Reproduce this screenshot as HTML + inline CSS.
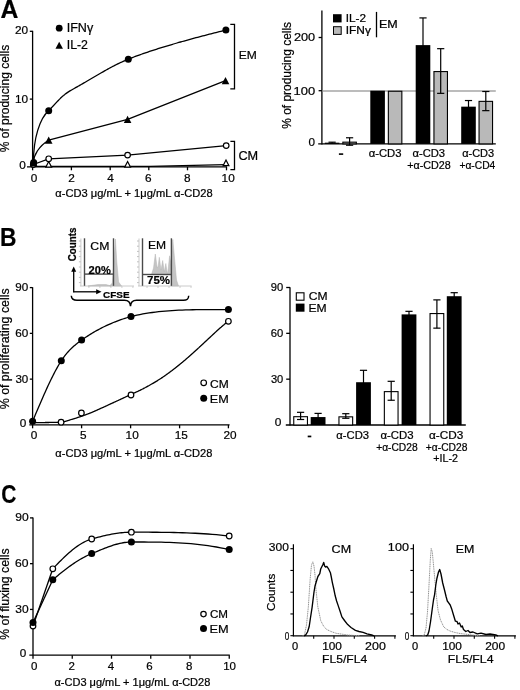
<!DOCTYPE html>
<html><head><meta charset="utf-8"><style>
html,body{margin:0;padding:0;background:#fff;width:520px;height:690px;overflow:hidden;}
svg{display:block;will-change:transform;}
text{font-family:"Liberation Sans",sans-serif;fill:#000;stroke:#000;stroke-width:0.22px;}
</style></head><body>
<svg width="520" height="690" viewBox="0 0 520 690">
<text x="0.48" y="17.60" font-size="25" textLength="17.87" lengthAdjust="spacingAndGlyphs" font-weight="bold" >A</text>
<line x1="32.60" y1="30.80" x2="32.60" y2="170.30" stroke="#000" stroke-width="1.3" />
<line x1="27.00" y1="166.90" x2="227.00" y2="166.90" stroke="#000" stroke-width="1.3" />
<line x1="29.80" y1="31.30" x2="32.60" y2="31.30" stroke="#000" stroke-width="1.3" />
<line x1="29.80" y1="99.10" x2="32.60" y2="99.10" stroke="#000" stroke-width="1.3" />
<text x="14.89" y="34.30" font-size="11.8" >20</text>
<text x="14.99" y="103.20" font-size="11.8" >10</text>
<text x="19.35" y="169.30" font-size="11.8" >0</text>
<line x1="71.40" y1="166.90" x2="71.40" y2="170.30" stroke="#000" stroke-width="1.3" />
<line x1="110.20" y1="166.90" x2="110.20" y2="170.30" stroke="#000" stroke-width="1.3" />
<line x1="148.80" y1="166.90" x2="148.80" y2="170.30" stroke="#000" stroke-width="1.3" />
<line x1="187.50" y1="166.90" x2="187.50" y2="170.30" stroke="#000" stroke-width="1.3" />
<line x1="226.50" y1="166.90" x2="226.50" y2="170.30" stroke="#000" stroke-width="1.3" />
<text x="30.72" y="181.80" font-size="11.8">0</text>
<text x="68.22" y="181.80" font-size="11.8">2</text>
<text x="107.26" y="181.80" font-size="11.8">4</text>
<text x="144.98" y="181.80" font-size="11.8">6</text>
<text x="183.92" y="181.80" font-size="11.8">8</text>
<text x="221.62" y="181.80" font-size="11.8">10</text>
<text x="55.29" y="197.20" font-size="10.2" textLength="157.34" lengthAdjust="spacingAndGlyphs" >α-CD3 μg/mL + 1μg/mL α-CD28</text>
<text transform="translate(9.00,151.85) rotate(-90)" x="-0.43" y="0" font-size="12.0" textLength="107.46" lengthAdjust="spacingAndGlyphs">% of producing cells</text>
<path d="M33.4,162.6 C33.4,138 40,118 48.7,110.8" fill="none" stroke="#000" stroke-width="1.3"/>
<path d="M48.70,110.80 L49.01,110.46 L49.32,110.12 L49.63,109.79 L49.94,109.45 L50.25,109.11 L50.55,108.77 L50.86,108.44 L51.17,108.10 L51.48,107.77 L51.79,107.43 L52.09,107.10 L52.40,106.76 L52.71,106.43 L53.01,106.10 L53.32,105.77 L53.62,105.44 L53.92,105.11 L54.23,104.79 L54.53,104.46 L54.83,104.14 L55.13,103.82 L55.43,103.50 L55.73,103.18 L56.03,102.86 L56.33,102.55 L56.62,102.23 L56.92,101.92 L57.21,101.61 L57.51,101.30 L57.80,101.00 L58.06,100.73 L58.33,100.45 L58.59,100.18 L58.85,99.91 L59.11,99.65 L59.37,99.38 L59.63,99.12 L59.89,98.86 L60.15,98.60 L60.41,98.34 L60.68,98.09 L60.94,97.83 L61.20,97.58 L61.46,97.33 L61.73,97.09 L61.99,96.84 L62.26,96.60 L62.53,96.35 L62.80,96.11 L63.07,95.88 L63.34,95.64 L63.62,95.41 L63.89,95.17 L64.17,94.94 L64.45,94.71 L64.74,94.49 L65.02,94.26 L65.31,94.04 L65.61,93.82 L65.90,93.60 L66.25,93.35 L66.60,93.10 L66.95,92.85 L67.31,92.61 L67.68,92.36 L68.05,92.12 L68.42,91.88 L68.80,91.64 L69.18,91.40 L69.57,91.16 L69.97,90.92 L70.37,90.68 L70.77,90.43 L71.18,90.19 L71.60,89.95 L72.02,89.71 L72.45,89.46 L72.88,89.21 L73.32,88.96 L73.77,88.71 L74.22,88.46 L74.68,88.20 L75.15,87.94 L75.62,87.67 L76.10,87.40 L76.59,87.13 L77.08,86.86 L77.58,86.58 L78.09,86.29 L78.60,86.00 L79.33,85.59 L80.07,85.16 L80.82,84.73 L81.59,84.29 L82.37,83.84 L83.16,83.39 L83.96,82.93 L84.76,82.46 L85.58,81.98 L86.40,81.50 L87.24,81.02 L88.07,80.53 L88.92,80.03 L89.76,79.54 L90.62,79.04 L91.47,78.54 L92.33,78.03 L93.19,77.53 L94.05,77.03 L94.91,76.52 L95.77,76.02 L96.63,75.51 L97.49,75.01 L98.35,74.52 L99.20,74.02 L100.05,73.53 L100.90,73.04 L101.74,72.55 L102.57,72.07 L103.40,71.60 L104.21,71.14 L105.01,70.68 L105.80,70.23 L106.60,69.79 L107.38,69.35 L108.17,68.91 L108.95,68.48 L109.73,68.05 L110.51,67.63 L111.29,67.21 L112.07,66.79 L112.86,66.38 L113.65,65.97 L114.44,65.56 L115.23,65.16 L116.03,64.75 L116.84,64.35 L117.66,63.95 L118.48,63.55 L119.31,63.16 L120.15,62.76 L121.00,62.37 L121.87,61.97 L122.74,61.58 L123.63,61.18 L124.53,60.79 L125.45,60.39 L126.38,60.00 L127.33,59.60 L128.30,59.20 L129.64,58.66 L131.02,58.11 L132.42,57.56 L133.86,57.01 L135.32,56.46 L136.81,55.91 L138.32,55.35 L139.86,54.80 L141.42,54.25 L143.00,53.69 L144.61,53.14 L146.23,52.58 L147.86,52.03 L149.52,51.47 L151.18,50.92 L152.87,50.37 L154.56,49.82 L156.26,49.28 L157.97,48.74 L159.69,48.19 L161.42,47.66 L163.15,47.12 L164.88,46.59 L166.62,46.06 L168.35,45.54 L170.09,45.02 L171.82,44.51 L173.55,44.00 L175.28,43.50 L177.00,43.00 L178.76,42.49 L180.51,42.00 L182.25,41.50 L183.99,41.01 L185.72,40.53 L187.44,40.05 L189.16,39.58 L190.87,39.11 L192.58,38.65 L194.28,38.19 L195.97,37.74 L197.66,37.29 L199.35,36.84 L201.03,36.39 L202.70,35.95 L204.38,35.52 L206.05,35.08 L207.71,34.65 L209.37,34.22 L211.04,33.79 L212.69,33.36 L214.35,32.94 L216.00,32.52 L217.65,32.10 L219.31,31.68 L220.95,31.26 L222.60,30.84 L224.25,30.42 L225.90,30.00" fill="none" stroke="#000" stroke-width="1.3" stroke-linejoin="round"/>
<path d="M33.4,162.8 C33.6,155 39,146 48.7,140.2 L127.6,119.3 L225.5,80.6" fill="none" stroke="#000" stroke-width="1.3" stroke-linejoin="round"/>
<path d="M33.30,164.50 L48.70,158.80 L127.60,155.10 L226.20,145.60" fill="none" stroke="#000" stroke-width="1.3" stroke-linejoin="round" />
<path d="M33.30,166.40 L48.70,166.40 L127.60,166.40 L150.00,166.40 L226.00,164.60" fill="none" stroke="#000" stroke-width="1.1" stroke-linejoin="round" />
<polygon points="45.80,167.21 51.60,167.21 48.70,161.55" fill="#fff" stroke="#000" stroke-width="1.2" stroke-linejoin="miter"/>
<polygon points="124.70,167.21 130.50,167.21 127.60,161.55" fill="#fff" stroke="#000" stroke-width="1.2" stroke-linejoin="miter"/>
<polygon points="223.10,165.71 228.90,165.71 226.00,160.05" fill="#fff" stroke="#000" stroke-width="1.2" stroke-linejoin="miter"/>
<circle cx="33.3" cy="164.5" r="2.80" fill="#fff" stroke="#000" stroke-width="1.2"/>
<circle cx="48.7" cy="158.8" r="2.80" fill="#fff" stroke="#000" stroke-width="1.2"/>
<circle cx="127.6" cy="155.1" r="2.80" fill="#fff" stroke="#000" stroke-width="1.2"/>
<circle cx="226.2" cy="145.6" r="2.80" fill="#fff" stroke="#000" stroke-width="1.2"/>
<polygon points="29.90,166.41 37.50,166.41 33.70,159.19" fill="#000"/>
<polygon points="44.90,143.81 52.50,143.81 48.70,136.59" fill="#000"/>
<polygon points="123.80,122.91 131.40,122.91 127.60,115.69" fill="#000"/>
<polygon points="221.70,84.21 229.30,84.21 225.50,76.99" fill="#000"/>
<circle cx="33.7" cy="162.6" r="3.5" fill="#000"/>
<circle cx="48.7" cy="110.8" r="3.5" fill="#000"/>
<circle cx="128.3" cy="59.2" r="3.5" fill="#000"/>
<circle cx="225.9" cy="30.0" r="3.5" fill="#000"/>
<circle cx="59.2" cy="28.2" r="3.4" fill="#000"/>
<text x="66.69" y="32.30" font-size="12" textLength="26.50" lengthAdjust="spacingAndGlyphs" >IFNγ</text>
<polygon points="55.45,48.86 62.95,48.86 59.20,41.74" fill="#000"/>
<text x="66.71" y="48.60" font-size="12" textLength="21.26" lengthAdjust="spacingAndGlyphs" >IL-2</text>
<path d="M230.3,24.4 H234.5 V88.9 H230.3" fill="none" stroke="#000" stroke-width="1.3"/>
<text x="238.76" y="59.40" font-size="11.8" textLength="18.08" lengthAdjust="spacingAndGlyphs" >EM</text>
<path d="M230.4,141.3 H234.5 V169.6 H230.4" fill="none" stroke="#000" stroke-width="1.3"/>
<text x="238.46" y="160.00" font-size="12.2" textLength="19.74" lengthAdjust="spacingAndGlyphs" >CM</text>
<line x1="321.90" y1="10.40" x2="321.90" y2="144.50" stroke="#000" stroke-width="1.3" />
<line x1="318.20" y1="143.90" x2="495.80" y2="143.90" stroke="#000" stroke-width="1.3" />
<line x1="318.60" y1="90.70" x2="321.90" y2="90.70" stroke="#000" stroke-width="1.3" />
<line x1="318.60" y1="37.50" x2="321.90" y2="37.50" stroke="#000" stroke-width="1.3" />
<line x1="322.60" y1="91.00" x2="495.80" y2="91.00" stroke="#a6a6a6" stroke-width="1.7" />
<text x="293.91" y="41.20" font-size="11.8" textLength="21.24" lengthAdjust="spacingAndGlyphs" >200</text>
<text x="293.56" y="94.90" font-size="11.8" textLength="21.59" lengthAdjust="spacingAndGlyphs" >100</text>
<text x="308.59" y="146.10" font-size="11.8" textLength="6.52" lengthAdjust="spacingAndGlyphs" >0</text>
<text transform="translate(290.60,128.35) rotate(-90)" x="-0.43" y="0" font-size="12.0" textLength="106.86" lengthAdjust="spacingAndGlyphs">% of producing cells</text>
<rect x="324.80" y="142.68" width="14.60" height="1.22" fill="#000"/>
<line x1="332.10" y1="142.20" x2="332.10" y2="143.68" stroke="#000" stroke-width="1.2" />
<line x1="328.50" y1="142.20" x2="335.70" y2="142.20" stroke="#000" stroke-width="1.2" />
<rect x="342.85" y="142.16" width="13.50" height="1.74" fill="#b9b9b9" stroke="#000" stroke-width="1.1"/>
<line x1="349.60" y1="137.78" x2="349.60" y2="145.23" stroke="#000" stroke-width="1.2" />
<line x1="346.00" y1="137.78" x2="353.20" y2="137.78" stroke="#000" stroke-width="1.2" />
<line x1="346.00" y1="145.23" x2="353.20" y2="145.23" stroke="#000" stroke-width="1.2" />
<rect x="370.30" y="90.70" width="14.60" height="53.20" fill="#000"/>
<rect x="388.35" y="91.25" width="13.50" height="52.65" fill="#b9b9b9" stroke="#000" stroke-width="1.1"/>
<rect x="415.70" y="45.11" width="14.60" height="98.79" fill="#000"/>
<line x1="423.00" y1="17.92" x2="423.00" y2="46.11" stroke="#000" stroke-width="1.2" />
<line x1="419.40" y1="17.92" x2="426.60" y2="17.92" stroke="#000" stroke-width="1.2" />
<rect x="433.95" y="71.57" width="13.50" height="72.33" fill="#b9b9b9" stroke="#000" stroke-width="1.1"/>
<line x1="440.70" y1="48.67" x2="440.70" y2="93.36" stroke="#000" stroke-width="1.2" />
<line x1="437.10" y1="48.67" x2="444.30" y2="48.67" stroke="#000" stroke-width="1.2" />
<line x1="437.10" y1="93.36" x2="444.30" y2="93.36" stroke="#000" stroke-width="1.2" />
<rect x="461.20" y="106.66" width="14.60" height="37.24" fill="#000"/>
<line x1="468.50" y1="100.54" x2="468.50" y2="107.66" stroke="#000" stroke-width="1.2" />
<line x1="464.90" y1="100.54" x2="472.10" y2="100.54" stroke="#000" stroke-width="1.2" />
<rect x="479.05" y="101.36" width="13.50" height="42.54" fill="#b9b9b9" stroke="#000" stroke-width="1.1"/>
<line x1="485.80" y1="91.50" x2="485.80" y2="110.65" stroke="#000" stroke-width="1.2" />
<line x1="482.20" y1="91.50" x2="489.40" y2="91.50" stroke="#000" stroke-width="1.2" />
<line x1="482.20" y1="110.65" x2="489.40" y2="110.65" stroke="#000" stroke-width="1.2" />
<rect x="338.9" y="153.3" width="4.3" height="1.6" fill="#000"/>
<text x="368.68" y="156.80" font-size="10.0" textLength="32.77" lengthAdjust="spacingAndGlyphs" >α-CD3</text>
<text x="412.48" y="156.80" font-size="10.0" textLength="32.56" lengthAdjust="spacingAndGlyphs" >α-CD3</text>
<text x="407.23" y="169.40" font-size="10.0" textLength="43.49" lengthAdjust="spacingAndGlyphs" >+α-CD28</text>
<text x="462.19" y="156.80" font-size="10.0" textLength="31.94" lengthAdjust="spacingAndGlyphs" >α-CD3</text>
<text x="459.45" y="169.40" font-size="10.0" textLength="35.90" lengthAdjust="spacingAndGlyphs" >+α-CD4</text>
<rect x="333" y="14.2" width="8.6" height="8.2" fill="#000"/>
<rect x="333.5" y="26.7" width="7.7" height="7.7" fill="#b9b9b9" stroke="#000" stroke-width="1"/>
<text x="345.76" y="22.00" font-size="10.2" textLength="20.28" lengthAdjust="spacingAndGlyphs" >IL-2</text>
<text x="345.75" y="33.70" font-size="10.2" textLength="25.14" lengthAdjust="spacingAndGlyphs" >IFNγ</text>
<line x1="376.50" y1="11.90" x2="376.50" y2="37.30" stroke="#000" stroke-width="1.3" />
<text x="378.92" y="28.20" font-size="10.2" textLength="18.75" lengthAdjust="spacingAndGlyphs" >EM</text>
<text x="-0.02" y="245.50" font-size="25" textLength="16.46" lengthAdjust="spacingAndGlyphs" font-weight="bold" >B</text>
<line x1="32.60" y1="287.20" x2="32.60" y2="428.30" stroke="#000" stroke-width="1.3" />
<line x1="29.30" y1="424.90" x2="229.60" y2="424.90" stroke="#000" stroke-width="1.3" />
<line x1="29.80" y1="379.13" x2="32.60" y2="379.13" stroke="#000" stroke-width="1.3" />
<line x1="29.80" y1="333.37" x2="32.60" y2="333.37" stroke="#000" stroke-width="1.3" />
<line x1="29.80" y1="287.60" x2="32.60" y2="287.60" stroke="#000" stroke-width="1.3" />
<text x="15.30" y="290.80" font-size="11.8" textLength="13.00" lengthAdjust="spacingAndGlyphs" >90</text>
<text x="15.25" y="336.60" font-size="11.8" textLength="13.05" lengthAdjust="spacingAndGlyphs" >60</text>
<text x="15.41" y="382.50" font-size="11.8" textLength="12.89" lengthAdjust="spacingAndGlyphs" >30</text>
<text x="19.65" y="426.50" font-size="11.8" >0</text>
<line x1="81.60" y1="424.90" x2="81.60" y2="428.30" stroke="#000" stroke-width="1.3" />
<line x1="130.60" y1="424.90" x2="130.60" y2="428.30" stroke="#000" stroke-width="1.3" />
<line x1="179.60" y1="424.90" x2="179.60" y2="428.30" stroke="#000" stroke-width="1.3" />
<line x1="228.40" y1="424.90" x2="228.40" y2="428.30" stroke="#000" stroke-width="1.3" />
<text x="30.72" y="439.10" font-size="11.8">0</text>
<text x="80.03" y="439.10" font-size="11.8">5</text>
<text x="125.62" y="439.10" font-size="11.8">10</text>
<text x="174.74" y="439.10" font-size="11.8">15</text>
<text x="223.57" y="439.10" font-size="11.8">20</text>
<text x="55.29" y="457.30" font-size="10.2" textLength="157.04" lengthAdjust="spacingAndGlyphs" >α-CD3 μg/mL + 1μg/mL α-CD28</text>
<text transform="translate(9.00,408.85) rotate(-90)" x="-0.44" y="0" font-size="12.3" textLength="120.89" lengthAdjust="spacingAndGlyphs">% of proliferating cells</text>
<path d="M32.60,421.30 L33.58,418.98 L34.55,416.66 L35.53,414.35 L36.51,412.04 L37.48,409.74 L38.46,407.46 L39.43,405.18 L40.41,402.92 L41.38,400.67 L42.35,398.44 L43.32,396.23 L44.29,394.05 L45.25,391.89 L46.22,389.75 L47.18,387.64 L48.14,385.57 L49.10,383.52 L50.06,381.51 L51.01,379.54 L51.96,377.60 L52.91,375.71 L53.85,373.85 L54.80,372.05 L55.74,370.28 L56.67,368.57 L57.61,366.91 L58.53,365.30 L59.46,363.74 L60.38,362.24 L61.30,360.80 L61.90,359.88 L62.50,358.99 L63.10,358.13 L63.70,357.29 L64.30,356.46 L64.91,355.66 L65.51,354.88 L66.12,354.12 L66.73,353.38 L67.35,352.66 L67.97,351.95 L68.60,351.25 L69.23,350.57 L69.87,349.90 L70.52,349.24 L71.17,348.60 L71.84,347.96 L72.51,347.33 L73.20,346.71 L73.89,346.10 L74.60,345.49 L75.32,344.89 L76.05,344.29 L76.80,343.69 L77.56,343.09 L78.33,342.50 L79.13,341.90 L79.93,341.31 L80.76,340.70 L81.60,340.10 L82.79,339.26 L84.01,338.42 L85.26,337.57 L86.55,336.71 L87.88,335.85 L89.23,334.98 L90.62,334.12 L92.04,333.25 L93.49,332.39 L94.98,331.52 L96.50,330.66 L98.05,329.81 L99.63,328.96 L101.24,328.12 L102.88,327.28 L104.55,326.46 L106.26,325.64 L107.99,324.84 L109.75,324.05 L111.54,323.28 L113.36,322.52 L115.21,321.78 L117.09,321.05 L118.99,320.35 L120.93,319.67 L122.89,319.00 L124.88,318.37 L126.89,317.75 L128.93,317.16 L131.00,316.60 L133.90,315.87 L136.85,315.19 L139.85,314.56 L142.89,313.98 L145.97,313.44 L149.09,312.95 L152.26,312.50 L155.46,312.09 L158.70,311.72 L161.97,311.38 L165.28,311.09 L168.61,310.82 L171.98,310.59 L175.37,310.38 L178.79,310.21 L182.23,310.05 L185.70,309.93 L189.18,309.82 L192.69,309.74 L196.21,309.67 L199.75,309.62 L203.30,309.59 L206.86,309.56 L210.44,309.55 L214.02,309.55 L217.61,309.56 L221.20,309.57 L224.80,309.58 L228.40,309.60" fill="none" stroke="#000" stroke-width="1.3" stroke-linejoin="round"/>
<path d="M33.00,422.60 L33.58,422.60 L34.17,422.60 L34.75,422.60 L35.33,422.60 L35.92,422.59 L36.50,422.59 L37.08,422.59 L37.67,422.59 L38.25,422.58 L38.83,422.58 L39.42,422.57 L40.00,422.57 L40.58,422.57 L41.17,422.56 L41.75,422.55 L42.33,422.55 L42.92,422.54 L43.50,422.54 L44.08,422.53 L44.67,422.53 L45.25,422.52 L45.83,422.51 L46.42,422.51 L47.00,422.50 L47.60,422.49 L48.21,422.49 L48.81,422.48 L49.42,422.47 L50.02,422.46 L50.62,422.45 L51.23,422.44 L51.83,422.43 L52.44,422.42 L53.04,422.40 L53.65,422.39 L54.25,422.38 L54.85,422.36 L55.46,422.34 L56.06,422.32 L56.67,422.30 L57.27,422.28 L57.88,422.26 L58.48,422.24 L59.08,422.21 L59.69,422.19 L60.29,422.16 L60.90,422.13 L61.50,422.10 L61.91,422.07 L62.32,422.03 L62.73,421.98 L63.13,421.91 L63.54,421.84 L63.95,421.75 L64.36,421.66 L64.77,421.56 L65.17,421.45 L65.58,421.34 L65.99,421.21 L66.40,421.09 L66.81,420.96 L67.22,420.83 L67.62,420.69 L68.03,420.55 L68.44,420.42 L68.85,420.28 L69.26,420.14 L69.67,420.01 L70.08,419.88 L70.48,419.75 L70.89,419.62 L71.30,419.50 L71.71,419.38 L72.12,419.26 L72.52,419.14 L72.93,419.02 L73.34,418.90 L73.75,418.78 L74.16,418.65 L74.57,418.53 L74.97,418.40 L75.38,418.27 L75.79,418.15 L76.20,418.02 L76.61,417.89 L77.02,417.76 L77.42,417.62 L77.83,417.49 L78.24,417.36 L78.65,417.22 L79.06,417.09 L79.47,416.95 L79.88,416.82 L80.28,416.68 L80.69,416.54 L81.10,416.40 L81.51,416.26 L81.92,416.12 L82.34,415.97 L82.75,415.83 L83.16,415.68 L83.57,415.53 L83.99,415.38 L84.40,415.23 L84.81,415.08 L85.22,414.93 L85.64,414.78 L86.05,414.63 L86.46,414.47 L86.88,414.31 L87.29,414.16 L87.70,414.00 L88.11,413.84 L88.53,413.68 L88.94,413.52 L89.35,413.36 L89.76,413.20 L90.17,413.03 L90.59,412.87 L91.00,412.70 L91.41,412.53 L91.82,412.37 L92.22,412.20 L92.63,412.03 L93.04,411.85 L93.45,411.68 L93.86,411.50 L94.27,411.32 L94.67,411.15 L95.08,410.97 L95.49,410.79 L95.90,410.61 L96.31,410.42 L96.72,410.24 L97.12,410.06 L97.53,409.87 L97.94,409.69 L98.35,409.50 L98.76,409.32 L99.17,409.14 L99.58,408.95 L99.98,408.77 L100.39,408.58 L100.80,408.40 L101.21,408.22 L101.62,408.03 L102.02,407.85 L102.43,407.66 L102.84,407.48 L103.25,407.29 L103.66,407.10 L104.07,406.92 L104.47,406.73 L104.88,406.54 L105.29,406.35 L105.70,406.16 L106.11,405.97 L106.52,405.79 L106.92,405.60 L107.33,405.41 L107.74,405.22 L108.15,405.03 L108.56,404.84 L108.97,404.65 L109.38,404.46 L109.78,404.28 L110.19,404.09 L110.60,403.90 L111.01,403.71 L111.42,403.53 L111.82,403.34 L112.23,403.15 L112.64,402.96 L113.05,402.78 L113.46,402.59 L113.87,402.40 L114.28,402.22 L114.68,402.03 L115.09,401.84 L115.50,401.66 L115.91,401.47 L116.32,401.28 L116.72,401.09 L117.13,400.91 L117.54,400.72 L117.95,400.53 L118.36,400.34 L118.77,400.16 L119.18,399.97 L119.58,399.78 L119.99,399.59 L120.40,399.40 L120.81,399.21 L121.22,399.02 L121.62,398.83 L122.03,398.64 L122.44,398.45 L122.85,398.25 L123.26,398.06 L123.67,397.87 L124.08,397.68 L124.48,397.49 L124.89,397.29 L125.30,397.10 L125.71,396.91 L126.12,396.71 L126.52,396.52 L126.93,396.33 L127.34,396.14 L127.75,395.95 L128.16,395.75 L128.57,395.56 L128.97,395.37 L129.38,395.18 L129.79,394.99 L130.20,394.80 L130.61,394.61 L131.02,394.42 L131.42,394.24 L131.83,394.05 L132.24,393.87 L132.65,393.68 L133.06,393.50 L133.47,393.32 L133.88,393.13 L134.28,392.95 L134.69,392.77 L135.10,392.58 L135.51,392.40 L135.92,392.22 L136.32,392.03 L136.73,391.84 L137.14,391.66 L137.55,391.47 L137.96,391.28 L138.37,391.09 L138.78,390.89 L139.18,390.70 L139.59,390.50 L140.00,390.30 L140.42,390.09 L140.83,389.89 L141.25,389.68 L141.67,389.47 L142.08,389.26 L142.50,389.04 L142.92,388.83 L143.33,388.61 L143.75,388.40 L144.17,388.18 L144.58,387.96 L145.00,387.74 L145.42,387.52 L145.83,387.29 L146.25,387.07 L146.67,386.84 L147.08,386.62 L147.50,386.39 L147.92,386.16 L148.33,385.93 L148.75,385.70 L149.17,385.47 L149.58,385.23 L150.00,385.00 L150.42,384.76 L150.83,384.53 L151.25,384.29 L151.67,384.05 L152.08,383.81 L152.50,383.57 L152.92,383.33 L153.33,383.09 L153.75,382.85 L154.17,382.60 L154.58,382.35 L155.00,382.10 L155.42,381.85 L155.83,381.60 L156.25,381.35 L156.67,381.10 L157.08,380.84 L157.50,380.58 L157.92,380.32 L158.33,380.06 L158.75,379.80 L159.17,379.53 L159.58,379.27 L160.00,379.00 L160.42,378.73 L160.83,378.46 L161.25,378.18 L161.67,377.90 L162.08,377.62 L162.50,377.34 L162.92,377.06 L163.33,376.77 L163.75,376.49 L164.17,376.20 L164.58,375.91 L165.00,375.61 L165.42,375.32 L165.83,375.02 L166.25,374.73 L166.67,374.43 L167.08,374.13 L167.50,373.83 L167.92,373.53 L168.33,373.22 L168.75,372.92 L169.17,372.61 L169.58,372.31 L170.00,372.00 L170.42,371.69 L170.83,371.38 L171.25,371.07 L171.67,370.76 L172.08,370.44 L172.50,370.12 L172.92,369.81 L173.33,369.49 L173.75,369.17 L174.17,368.84 L174.58,368.52 L175.00,368.19 L175.42,367.87 L175.83,367.54 L176.25,367.21 L176.67,366.88 L177.08,366.55 L177.50,366.22 L177.92,365.88 L178.33,365.55 L178.75,365.21 L179.17,364.88 L179.58,364.54 L180.00,364.20 L180.42,363.86 L180.83,363.52 L181.25,363.18 L181.67,362.83 L182.08,362.49 L182.50,362.14 L182.92,361.79 L183.33,361.44 L183.75,361.09 L184.17,360.74 L184.58,360.39 L185.00,360.03 L185.42,359.68 L185.83,359.32 L186.25,358.96 L186.67,358.60 L187.08,358.24 L187.50,357.88 L187.92,357.52 L188.33,357.16 L188.75,356.80 L189.17,356.43 L189.58,356.07 L190.00,355.70 L190.42,355.33 L190.83,354.96 L191.25,354.59 L191.67,354.22 L192.08,353.85 L192.50,353.47 L192.92,353.10 L193.33,352.72 L193.75,352.34 L194.17,351.96 L194.58,351.58 L195.00,351.20 L195.42,350.82 L195.83,350.44 L196.25,350.05 L196.67,349.67 L197.08,349.29 L197.50,348.90 L197.92,348.52 L198.33,348.14 L198.75,347.75 L199.17,347.37 L199.58,346.98 L200.00,346.60 L200.42,346.22 L200.83,345.83 L201.25,345.45 L201.67,345.06 L202.08,344.67 L202.50,344.29 L202.92,343.90 L203.33,343.51 L203.75,343.12 L204.17,342.73 L204.58,342.35 L205.00,341.96 L205.42,341.57 L205.83,341.18 L206.25,340.79 L206.67,340.40 L207.08,340.01 L207.50,339.62 L207.92,339.23 L208.33,338.85 L208.75,338.46 L209.17,338.07 L209.58,337.69 L210.00,337.30 L210.42,336.91 L210.83,336.53 L211.25,336.14 L211.67,335.75 L212.08,335.36 L212.50,334.97 L212.92,334.58 L213.33,334.19 L213.75,333.80 L214.17,333.41 L214.58,333.02 L215.00,332.64 L215.42,332.25 L215.83,331.86 L216.25,331.48 L216.67,331.09 L217.08,330.71 L217.50,330.33 L217.92,329.95 L218.33,329.58 L218.75,329.20 L219.17,328.83 L219.58,328.47 L220.00,328.10 L220.37,327.78 L220.73,327.46 L221.10,327.15 L221.46,326.83 L221.83,326.52 L222.19,326.21 L222.56,325.90 L222.92,325.59 L223.29,325.28 L223.65,324.97 L224.02,324.67 L224.38,324.36 L224.75,324.06 L225.11,323.76 L225.48,323.46 L225.84,323.16 L226.21,322.86 L226.57,322.57 L226.94,322.27 L227.30,321.98 L227.67,321.68 L228.03,321.39 L228.40,321.10" fill="none" stroke="#000" stroke-width="1.3" stroke-linejoin="round"/>
<circle cx="61.1" cy="422.2" r="2.80" fill="#fff" stroke="#000" stroke-width="1.2"/>
<circle cx="81.4" cy="413.0" r="2.80" fill="#fff" stroke="#000" stroke-width="1.2"/>
<circle cx="131.0" cy="395.0" r="2.80" fill="#fff" stroke="#000" stroke-width="1.2"/>
<circle cx="228.4" cy="321.3" r="2.80" fill="#fff" stroke="#000" stroke-width="1.2"/>
<circle cx="32.6" cy="421.3" r="3.5" fill="#000"/>
<circle cx="61.3" cy="360.8" r="3.5" fill="#000"/>
<circle cx="81.6" cy="340.1" r="3.5" fill="#000"/>
<circle cx="131.0" cy="316.6" r="3.5" fill="#000"/>
<circle cx="228.4" cy="309.6" r="3.5" fill="#000"/>
<circle cx="203.7" cy="382.8" r="2.80" fill="#fff" stroke="#000" stroke-width="1.2"/>
<text x="210.14" y="388.00" font-size="11.8" textLength="18.70" lengthAdjust="spacingAndGlyphs" >CM</text>
<circle cx="203.7" cy="398.2" r="3.5" fill="#000"/>
<text x="209.71" y="403.30" font-size="11.8" textLength="18.98" lengthAdjust="spacingAndGlyphs" >EM</text>
<line x1="73.70" y1="270.00" x2="73.70" y2="292.30" stroke="#000" stroke-width="1.3" />
<polygon points="71.2,271.8 76.2,271.8 73.7,266.4" fill="#000"/>
<line x1="73.10" y1="291.80" x2="97.00" y2="291.80" stroke="#000" stroke-width="1.3" />
<polygon points="96.2,289.3 96.2,294.3 101.5,291.8" fill="#000"/>
<text transform="translate(75.70,260.95) rotate(-90)" x="-0.40" y="0" font-size="10.2" textLength="33.70" lengthAdjust="spacingAndGlyphs" font-weight="bold">Counts</text>
<text x="103.04" y="298.20" font-size="9.8" textLength="26.50" lengthAdjust="spacingAndGlyphs" font-weight="bold" >CFSE</text>
<line x1="78.90" y1="241.00" x2="80.90" y2="241.00" stroke="#b0b0b0" stroke-width="0.8" />
<line x1="78.90" y1="246.20" x2="80.90" y2="246.20" stroke="#b0b0b0" stroke-width="0.8" />
<line x1="78.90" y1="251.40" x2="80.90" y2="251.40" stroke="#b0b0b0" stroke-width="0.8" />
<line x1="78.90" y1="256.60" x2="80.90" y2="256.60" stroke="#b0b0b0" stroke-width="0.8" />
<line x1="78.90" y1="261.80" x2="80.90" y2="261.80" stroke="#b0b0b0" stroke-width="0.8" />
<line x1="78.90" y1="267.00" x2="80.90" y2="267.00" stroke="#b0b0b0" stroke-width="0.8" />
<line x1="78.90" y1="272.20" x2="80.90" y2="272.20" stroke="#b0b0b0" stroke-width="0.8" />
<line x1="78.90" y1="277.40" x2="80.90" y2="277.40" stroke="#b0b0b0" stroke-width="0.8" />
<line x1="78.90" y1="282.60" x2="80.90" y2="282.60" stroke="#b0b0b0" stroke-width="0.8" />
<line x1="80.90" y1="238.50" x2="80.90" y2="286.00" stroke="#c4c4c4" stroke-width="0.9" />
<line x1="79.90" y1="286.00" x2="134.00" y2="286.00" stroke="#c4c4c4" stroke-width="0.9" />
<line x1="88.90" y1="286.00" x2="88.90" y2="288.00" stroke="#c4c4c4" stroke-width="0.8" />
<line x1="99.90" y1="286.00" x2="99.90" y2="288.00" stroke="#c4c4c4" stroke-width="0.8" />
<line x1="110.90" y1="286.00" x2="110.90" y2="288.00" stroke="#c4c4c4" stroke-width="0.8" />
<line x1="121.90" y1="286.00" x2="121.90" y2="288.00" stroke="#c4c4c4" stroke-width="0.8" />
<line x1="132.90" y1="286.00" x2="132.90" y2="288.00" stroke="#c4c4c4" stroke-width="0.8" />
<path d="M109.5,286 L112.3,283 L114,262 L115.4,239 L116.8,262 L118.6,282 L121.5,286 Z" fill="#c4c4c4" stroke="#b4b4b4" stroke-width="0.5"/>
<path d="M88,286 L98,284.5 L106,284.5 L111,286 Z" fill="#c4c4c4" stroke="#b4b4b4" stroke-width="0.5"/>
<line x1="84.50" y1="238.30" x2="84.50" y2="285.80" stroke="#4a4a4a" stroke-width="1.4" />
<line x1="113.50" y1="238.30" x2="113.50" y2="285.80" stroke="#4a4a4a" stroke-width="1.4" />
<line x1="84.50" y1="274.10" x2="113.50" y2="274.10" stroke="#4a4a4a" stroke-width="1.4" />
<text x="90.33" y="250.40" font-size="11.2" textLength="19.02" lengthAdjust="spacingAndGlyphs" >CM</text>
<text x="88.57" y="274.00" font-size="11.2" textLength="22.18" lengthAdjust="spacingAndGlyphs" font-weight="bold" >20%</text>
<line x1="137.00" y1="241.00" x2="139.00" y2="241.00" stroke="#b0b0b0" stroke-width="0.8" />
<line x1="137.00" y1="246.20" x2="139.00" y2="246.20" stroke="#b0b0b0" stroke-width="0.8" />
<line x1="137.00" y1="251.40" x2="139.00" y2="251.40" stroke="#b0b0b0" stroke-width="0.8" />
<line x1="137.00" y1="256.60" x2="139.00" y2="256.60" stroke="#b0b0b0" stroke-width="0.8" />
<line x1="137.00" y1="261.80" x2="139.00" y2="261.80" stroke="#b0b0b0" stroke-width="0.8" />
<line x1="137.00" y1="267.00" x2="139.00" y2="267.00" stroke="#b0b0b0" stroke-width="0.8" />
<line x1="137.00" y1="272.20" x2="139.00" y2="272.20" stroke="#b0b0b0" stroke-width="0.8" />
<line x1="137.00" y1="277.40" x2="139.00" y2="277.40" stroke="#b0b0b0" stroke-width="0.8" />
<line x1="137.00" y1="282.60" x2="139.00" y2="282.60" stroke="#b0b0b0" stroke-width="0.8" />
<line x1="139.00" y1="238.50" x2="139.00" y2="286.00" stroke="#c4c4c4" stroke-width="0.9" />
<line x1="138.00" y1="286.00" x2="191.60" y2="286.00" stroke="#c4c4c4" stroke-width="0.9" />
<line x1="147.00" y1="286.00" x2="147.00" y2="288.00" stroke="#c4c4c4" stroke-width="0.8" />
<line x1="158.00" y1="286.00" x2="158.00" y2="288.00" stroke="#c4c4c4" stroke-width="0.8" />
<line x1="169.00" y1="286.00" x2="169.00" y2="288.00" stroke="#c4c4c4" stroke-width="0.8" />
<line x1="180.00" y1="286.00" x2="180.00" y2="288.00" stroke="#c4c4c4" stroke-width="0.8" />
<line x1="191.00" y1="286.00" x2="191.00" y2="288.00" stroke="#c4c4c4" stroke-width="0.8" />
<path d="M151.5,274.5 L153.5,268 L155.3,254 L157.2,268 L158.2,266 L159.3,257.3 L161.0,270 L162.7,260.5 L164.3,272 L165.8,263.5 L167.4,274.5 L168.3,268 L169.6,255.8 L171.2,266 L171.2,274.5 Z" fill="#c4c4c4" stroke="#b4b4b4" stroke-width="0.5"/>
<path d="M171.2,286 L171.2,262 L172.8,239.5 L174.5,258 L176.5,280 L178.5,286 Z" fill="#c4c4c4" stroke="#b4b4b4" stroke-width="0.5"/>
<line x1="142.50" y1="238.30" x2="142.50" y2="285.80" stroke="#4a4a4a" stroke-width="1.4" />
<line x1="171.40" y1="238.30" x2="171.40" y2="285.80" stroke="#4a4a4a" stroke-width="1.4" />
<line x1="142.50" y1="274.50" x2="171.40" y2="274.50" stroke="#4a4a4a" stroke-width="1.4" />
<text x="147.96" y="249.10" font-size="11.2" textLength="18.08" lengthAdjust="spacingAndGlyphs" >EM</text>
<text x="147.06" y="284.10" font-size="11.2" textLength="23.00" lengthAdjust="spacingAndGlyphs" font-weight="bold" >75%</text>
<path d="M71.3,295.8 C71.5,299.5 73.5,300.3 77,300.3 L124.5,300.3 C128.5,300.3 130.3,302 130.5,306.2 C130.7,302 132.5,300.3 136.5,300.3 L183.5,300.3 C187,300.3 188.5,299.5 188.7,295.8" fill="none" stroke="#000" stroke-width="1.5"/>
<line x1="290.00" y1="287.20" x2="290.00" y2="425.60" stroke="#000" stroke-width="1.3" />
<line x1="285.80" y1="425.00" x2="465.80" y2="425.00" stroke="#000" stroke-width="1.3" />
<line x1="286.20" y1="379.17" x2="290.00" y2="379.17" stroke="#000" stroke-width="1.3" />
<line x1="286.20" y1="333.33" x2="290.00" y2="333.33" stroke="#000" stroke-width="1.3" />
<line x1="286.20" y1="287.50" x2="290.00" y2="287.50" stroke="#000" stroke-width="1.3" />
<text x="270.82" y="290.70" font-size="11.8" textLength="12.46" lengthAdjust="spacingAndGlyphs" >90</text>
<text x="270.78" y="336.60" font-size="11.8" textLength="12.51" lengthAdjust="spacingAndGlyphs" >60</text>
<text x="270.93" y="382.60" font-size="11.8" textLength="12.36" lengthAdjust="spacingAndGlyphs" >30</text>
<text x="274.68" y="426.30" font-size="11.8" textLength="6.63" lengthAdjust="spacingAndGlyphs" >0</text>
<rect x="293.75" y="416.69" width="13.70" height="8.31" fill="#fff" stroke="#000" stroke-width="1.1"/>
<line x1="300.60" y1="412.32" x2="300.60" y2="419.50" stroke="#000" stroke-width="1.2" />
<line x1="297.00" y1="412.32" x2="304.20" y2="412.32" stroke="#000" stroke-width="1.2" />
<line x1="297.00" y1="419.50" x2="304.20" y2="419.50" stroke="#000" stroke-width="1.2" />
<rect x="310.70" y="417.06" width="14.80" height="7.94" fill="#000"/>
<line x1="318.10" y1="413.39" x2="318.10" y2="418.06" stroke="#000" stroke-width="1.2" />
<line x1="314.50" y1="413.39" x2="321.70" y2="413.39" stroke="#000" stroke-width="1.2" />
<rect x="338.95" y="416.84" width="13.70" height="8.16" fill="#fff" stroke="#000" stroke-width="1.1"/>
<line x1="345.80" y1="413.69" x2="345.80" y2="418.28" stroke="#000" stroke-width="1.2" />
<line x1="342.20" y1="413.69" x2="349.40" y2="413.69" stroke="#000" stroke-width="1.2" />
<line x1="342.20" y1="418.28" x2="349.40" y2="418.28" stroke="#000" stroke-width="1.2" />
<rect x="356.10" y="382.22" width="14.80" height="42.78" fill="#000"/>
<line x1="363.50" y1="370.31" x2="363.50" y2="383.22" stroke="#000" stroke-width="1.2" />
<line x1="359.90" y1="370.31" x2="367.10" y2="370.31" stroke="#000" stroke-width="1.2" />
<rect x="384.35" y="391.63" width="13.70" height="33.37" fill="#fff" stroke="#000" stroke-width="1.1"/>
<line x1="391.20" y1="381.31" x2="391.20" y2="400.25" stroke="#000" stroke-width="1.2" />
<line x1="387.60" y1="381.31" x2="394.80" y2="381.31" stroke="#000" stroke-width="1.2" />
<line x1="387.60" y1="400.25" x2="394.80" y2="400.25" stroke="#000" stroke-width="1.2" />
<rect x="401.60" y="314.39" width="14.80" height="110.61" fill="#000"/>
<line x1="409.00" y1="311.33" x2="409.00" y2="315.39" stroke="#000" stroke-width="1.2" />
<line x1="405.40" y1="311.33" x2="412.60" y2="311.33" stroke="#000" stroke-width="1.2" />
<rect x="430.05" y="313.56" width="13.70" height="111.44" fill="#fff" stroke="#000" stroke-width="1.1"/>
<line x1="436.90" y1="299.88" x2="436.90" y2="328.14" stroke="#000" stroke-width="1.2" />
<line x1="433.30" y1="299.88" x2="440.50" y2="299.88" stroke="#000" stroke-width="1.2" />
<line x1="433.30" y1="328.14" x2="440.50" y2="328.14" stroke="#000" stroke-width="1.2" />
<rect x="446.80" y="296.21" width="14.80" height="128.79" fill="#000"/>
<line x1="454.20" y1="292.69" x2="454.20" y2="297.21" stroke="#000" stroke-width="1.2" />
<line x1="450.60" y1="292.69" x2="457.80" y2="292.69" stroke="#000" stroke-width="1.2" />
<rect x="307.7" y="435.6" width="3.6" height="1.7" fill="#000"/>
<text x="336.38" y="438.90" font-size="10.0" textLength="32.66" lengthAdjust="spacingAndGlyphs" >α-CD3</text>
<text x="380.47" y="439.10" font-size="10.0" textLength="33.08" lengthAdjust="spacingAndGlyphs" >α-CD3</text>
<text x="376.15" y="451.10" font-size="10.0" textLength="41.55" lengthAdjust="spacingAndGlyphs" >+α-CD28</text>
<text x="429.06" y="439.10" font-size="10.0" textLength="34.21" lengthAdjust="spacingAndGlyphs" >α-CD3</text>
<text x="425.85" y="451.10" font-size="10.0" textLength="41.55" lengthAdjust="spacingAndGlyphs" >+α-CD28</text>
<text x="433.33" y="462.10" font-size="10.0" textLength="24.66" lengthAdjust="spacingAndGlyphs" >+IL-2</text>
<rect x="296.3" y="292.8" width="7.7" height="7.4" fill="#fff" stroke="#000" stroke-width="1.1"/>
<rect x="295.8" y="303.6" width="8.7" height="8.1" fill="#000"/>
<text x="308.84" y="300.00" font-size="11.0" textLength="18.81" lengthAdjust="spacingAndGlyphs" >CM</text>
<text x="308.46" y="311.50" font-size="11.0" textLength="18.19" lengthAdjust="spacingAndGlyphs" >EM</text>
<text x="1.14" y="503.20" font-size="25" textLength="15.13" lengthAdjust="spacingAndGlyphs" font-weight="bold" >C</text>
<line x1="33.00" y1="517.40" x2="33.00" y2="658.70" stroke="#000" stroke-width="1.3" />
<line x1="29.30" y1="655.20" x2="229.80" y2="655.20" stroke="#000" stroke-width="1.3" />
<line x1="30.00" y1="609.43" x2="33.00" y2="609.43" stroke="#000" stroke-width="1.3" />
<line x1="30.00" y1="563.67" x2="33.00" y2="563.67" stroke="#000" stroke-width="1.3" />
<line x1="30.00" y1="517.90" x2="33.00" y2="517.90" stroke="#000" stroke-width="1.3" />
<text x="15.18" y="521.30" font-size="11.5" textLength="13.44" lengthAdjust="spacingAndGlyphs" >90</text>
<text x="15.13" y="567.30" font-size="11.5" textLength="13.49" lengthAdjust="spacingAndGlyphs" >60</text>
<text x="15.29" y="613.00" font-size="11.5" textLength="13.32" lengthAdjust="spacingAndGlyphs" >30</text>
<text x="19.69" y="657.30" font-size="11.5" textLength="6.52" lengthAdjust="spacingAndGlyphs" >0</text>
<line x1="72.25" y1="655.20" x2="72.25" y2="658.70" stroke="#000" stroke-width="1.3" />
<line x1="111.50" y1="655.20" x2="111.50" y2="658.70" stroke="#000" stroke-width="1.3" />
<line x1="150.75" y1="655.20" x2="150.75" y2="658.70" stroke="#000" stroke-width="1.3" />
<line x1="190.00" y1="655.20" x2="190.00" y2="658.70" stroke="#000" stroke-width="1.3" />
<line x1="229.25" y1="655.20" x2="229.25" y2="658.70" stroke="#000" stroke-width="1.3" />
<text x="31.00" y="670.00" font-size="11.5">0</text>
<text x="68.40" y="670.00" font-size="11.5">2</text>
<text x="107.84" y="670.00" font-size="11.5">4</text>
<text x="146.36" y="670.00" font-size="11.5">6</text>
<text x="186.00" y="670.00" font-size="11.5">8</text>
<text x="223.19" y="670.00" font-size="11.5">10</text>
<text x="54.49" y="686.30" font-size="10.0" textLength="155.84" lengthAdjust="spacingAndGlyphs" >α-CD3 μg/mL + 1μg/mL α-CD28</text>
<text transform="translate(9.00,639.35) rotate(-90)" x="-0.44" y="0" font-size="12.3" textLength="91.48" lengthAdjust="spacingAndGlyphs">% of fluxing cells</text>
<path d="M33.00,626.00 L52.80,568.80" fill="none" stroke="#000" stroke-width="1.3" stroke-linejoin="round" />
<path d="M33.00,622.60 L52.80,579.80" fill="none" stroke="#000" stroke-width="1.3" stroke-linejoin="round" />
<path d="M52.80,568.80 L54.42,567.09 L56.04,565.39 L57.66,563.72 L59.28,562.07 L60.90,560.45 L62.52,558.85 L64.15,557.29 L65.77,555.77 L67.39,554.29 L69.01,552.85 L70.63,551.45 L72.25,550.11 L73.87,548.82 L75.49,547.58 L77.11,546.40 L78.73,545.29 L80.35,544.24 L81.97,543.26 L83.60,542.35 L85.22,541.52 L86.84,540.76 L88.46,540.09 L90.08,539.50 L91.70,539.00 L93.35,538.54 L95.01,538.09 L96.66,537.64 L98.32,537.21 L99.97,536.78 L101.62,536.37 L103.28,535.97 L104.93,535.59 L106.59,535.22 L108.24,534.86 L109.90,534.53 L111.55,534.21 L113.20,533.91 L114.86,533.63 L116.51,533.37 L118.17,533.14 L119.82,532.93 L121.48,532.74 L123.13,532.58 L124.78,532.45 L126.44,532.34 L128.09,532.26 L129.75,532.22 L131.40,532.20 L135.65,532.20 L139.90,532.20 L144.16,532.21 L148.41,532.22 L152.66,532.24 L156.91,532.27 L161.17,532.31 L165.42,532.36 L169.67,532.43 L173.92,532.51 L178.17,532.62 L182.43,532.74 L186.68,532.89 L190.93,533.06 L195.18,533.25 L199.43,533.48 L203.69,533.73 L207.94,534.02 L212.19,534.34 L216.44,534.70 L220.70,535.09 L224.95,535.53 L229.20,536.00" fill="none" stroke="#000" stroke-width="1.3" stroke-linejoin="round"/>
<path d="M52.80,579.80 L54.42,578.41 L56.04,577.04 L57.66,575.68 L59.28,574.34 L60.90,573.03 L62.52,571.73 L64.15,570.46 L65.77,569.21 L67.39,567.99 L69.01,566.80 L70.63,565.63 L72.25,564.49 L73.87,563.38 L75.49,562.31 L77.11,561.27 L78.73,560.26 L80.35,559.29 L81.97,558.35 L83.60,557.46 L85.22,556.60 L86.84,555.79 L88.46,555.01 L90.08,554.28 L91.70,553.60 L93.35,552.92 L95.01,552.24 L96.66,551.55 L98.32,550.87 L99.97,550.18 L101.62,549.51 L103.28,548.84 L104.93,548.19 L106.59,547.56 L108.24,546.94 L109.90,546.34 L111.55,545.77 L113.20,545.23 L114.86,544.72 L116.51,544.25 L118.17,543.81 L119.82,543.41 L121.48,543.05 L123.13,542.74 L124.78,542.48 L126.44,542.28 L128.09,542.13 L129.75,542.03 L131.40,542.00 L135.65,542.00 L139.90,542.00 L144.16,542.02 L148.41,542.04 L152.66,542.08 L156.91,542.13 L161.17,542.21 L165.42,542.32 L169.67,542.46 L173.92,542.62 L178.17,542.83 L182.43,543.08 L186.68,543.37 L190.93,543.71 L195.18,544.11 L199.43,544.56 L203.69,545.07 L207.94,545.64 L212.19,546.28 L216.44,547.00 L220.70,547.78 L224.95,548.65 L229.20,549.60" fill="none" stroke="#000" stroke-width="1.3" stroke-linejoin="round"/>
<circle cx="33" cy="626.0" r="2.80" fill="#fff" stroke="#000" stroke-width="1.2"/>
<circle cx="52.8" cy="568.8" r="2.80" fill="#fff" stroke="#000" stroke-width="1.2"/>
<circle cx="91.7" cy="539.0" r="2.80" fill="#fff" stroke="#000" stroke-width="1.2"/>
<circle cx="131.4" cy="532.2" r="2.80" fill="#fff" stroke="#000" stroke-width="1.2"/>
<circle cx="229.2" cy="536.0" r="2.80" fill="#fff" stroke="#000" stroke-width="1.2"/>
<circle cx="33" cy="622.6" r="3.5" fill="#000"/>
<circle cx="52.8" cy="579.8" r="3.5" fill="#000"/>
<circle cx="91.7" cy="553.6" r="3.5" fill="#000"/>
<circle cx="131.4" cy="542.0" r="3.5" fill="#000"/>
<circle cx="229.2" cy="549.6" r="3.5" fill="#000"/>
<circle cx="203.5" cy="614.1" r="2.70" fill="#fff" stroke="#000" stroke-width="1.2"/>
<text x="209.96" y="618.20" font-size="11.8" textLength="18.04" lengthAdjust="spacingAndGlyphs" >CM</text>
<circle cx="203.5" cy="628.5" r="3.5" fill="#000"/>
<text x="209.50" y="633.40" font-size="11.8" textLength="19.20" lengthAdjust="spacingAndGlyphs" >EM</text>
<line x1="293.40" y1="544.30" x2="293.40" y2="636.30" stroke="#000" stroke-width="1.2" />
<line x1="292.80" y1="635.80" x2="395.90" y2="635.80" stroke="#000" stroke-width="1.2" />
<line x1="290.40" y1="548.70" x2="293.40" y2="548.70" stroke="#000" stroke-width="1.1" />
<line x1="290.40" y1="570.45" x2="293.40" y2="570.45" stroke="#000" stroke-width="1.1" />
<line x1="290.40" y1="592.20" x2="293.40" y2="592.20" stroke="#000" stroke-width="1.1" />
<line x1="290.40" y1="613.95" x2="293.40" y2="613.95" stroke="#000" stroke-width="1.1" />
<line x1="290.40" y1="635.70" x2="293.40" y2="635.70" stroke="#000" stroke-width="1.1" />
<line x1="313.70" y1="635.80" x2="313.70" y2="638.80" stroke="#000" stroke-width="1.1" />
<line x1="334.00" y1="635.80" x2="334.00" y2="638.80" stroke="#000" stroke-width="1.1" />
<line x1="354.30" y1="635.80" x2="354.30" y2="638.80" stroke="#000" stroke-width="1.1" />
<line x1="374.60" y1="635.80" x2="374.60" y2="638.80" stroke="#000" stroke-width="1.1" />
<line x1="394.90" y1="635.80" x2="394.90" y2="638.80" stroke="#000" stroke-width="1.1" />
<text x="268.89" y="551.40" font-size="11.5" textLength="20.03" lengthAdjust="spacingAndGlyphs" >300</text>
<text x="284.63" y="639.60" font-size="11.5" textLength="4.54" lengthAdjust="spacingAndGlyphs" >0</text>
<text x="291.92" y="649.70" font-size="11.5" textLength="6.17" lengthAdjust="spacingAndGlyphs" >0</text>
<text x="322.15" y="649.70" font-size="11.5" textLength="19.77" lengthAdjust="spacingAndGlyphs" >100</text>
<text x="365.13" y="649.70" font-size="11.5" textLength="20.71" lengthAdjust="spacingAndGlyphs" >200</text>
<text x="331.61" y="552.90" font-size="11.5" textLength="19.46" lengthAdjust="spacingAndGlyphs" >CM</text>
<path d="M302.50,635.80 L304.40,635.00 L306.50,625.00 L308.30,607.30 L310.20,578.50 L311.50,565.00 L312.80,561.80 L314.00,566.00 L315.00,575.00 L316.00,590.00 L317.90,607.30 L320.80,620.80 L323.50,626.00 L326.50,629.40 L331.00,631.50 L336.20,633.30 L347.70,635.00 L360.00,635.80" fill="none" stroke="#939393" stroke-width="1.0" stroke-linejoin="round" stroke-dasharray="1.2,0.6"/>
<path d="M304.00,635.80 L305.40,635.30 L307.50,632.00 L309.20,626.50 L310.60,617.00 L312.10,607.30 L314.00,592.00 L315.00,586.00 L316.50,581.00 L317.90,576.50 L319.80,573.70 L320.70,569.00 L321.70,567.00 L322.70,565.00 L323.70,562.50 L324.60,566.00 L325.60,567.00 L327.00,566.50 L328.50,568.80 L330.40,572.70 L331.30,577.00 L332.30,582.30 L333.80,589.00 L335.20,595.80 L336.60,601.00 L338.10,605.40 L340.00,611.00 L341.90,616.90 L344.50,620.50 L347.70,624.60 L351.00,627.50 L355.40,630.40 L359.00,631.50 L363.10,632.30 L367.00,633.80 L371.70,635.00 L374.00,635.80" fill="none" stroke="#000" stroke-width="1.35" stroke-linejoin="round" />
<text x="322.06" y="662.80" font-size="11.5" textLength="45.15" lengthAdjust="spacingAndGlyphs" >FL5/FL4</text>
<text transform="translate(275.40,610.45) rotate(-90)" x="-0.60" y="0" font-size="11.5" textLength="37.32" lengthAdjust="spacingAndGlyphs">Counts</text>
<line x1="413.40" y1="544.30" x2="413.40" y2="636.30" stroke="#000" stroke-width="1.2" />
<line x1="412.80" y1="635.80" x2="515.90" y2="635.80" stroke="#000" stroke-width="1.2" />
<line x1="410.40" y1="548.70" x2="413.40" y2="548.70" stroke="#000" stroke-width="1.1" />
<line x1="410.40" y1="570.45" x2="413.40" y2="570.45" stroke="#000" stroke-width="1.1" />
<line x1="410.40" y1="592.20" x2="413.40" y2="592.20" stroke="#000" stroke-width="1.1" />
<line x1="410.40" y1="613.95" x2="413.40" y2="613.95" stroke="#000" stroke-width="1.1" />
<line x1="410.40" y1="635.70" x2="413.40" y2="635.70" stroke="#000" stroke-width="1.1" />
<line x1="433.70" y1="635.80" x2="433.70" y2="638.80" stroke="#000" stroke-width="1.1" />
<line x1="454.00" y1="635.80" x2="454.00" y2="638.80" stroke="#000" stroke-width="1.1" />
<line x1="474.30" y1="635.80" x2="474.30" y2="638.80" stroke="#000" stroke-width="1.1" />
<line x1="494.60" y1="635.80" x2="494.60" y2="638.80" stroke="#000" stroke-width="1.1" />
<line x1="514.90" y1="635.80" x2="514.90" y2="638.80" stroke="#000" stroke-width="1.1" />
<text x="387.89" y="551.40" font-size="11.5" textLength="21.05" lengthAdjust="spacingAndGlyphs" >100</text>
<text x="404.63" y="639.60" font-size="11.5" textLength="4.54" lengthAdjust="spacingAndGlyphs" >0</text>
<text x="411.92" y="649.70" font-size="11.5" textLength="6.17" lengthAdjust="spacingAndGlyphs" >0</text>
<text x="442.15" y="649.70" font-size="11.5" textLength="19.77" lengthAdjust="spacingAndGlyphs" >100</text>
<text x="485.15" y="649.70" font-size="11.5" textLength="19.97" lengthAdjust="spacingAndGlyphs" >200</text>
<text x="455.83" y="552.90" font-size="11.5" textLength="18.64" lengthAdjust="spacingAndGlyphs" >EM</text>
<path d="M422.50,635.80 L424.20,635.00 L426.00,628.00 L427.50,612.00 L429.00,585.00 L430.30,560.00 L431.20,548.50 L432.30,552.00 L433.50,565.00 L434.60,577.00 L436.30,595.00 L438.10,610.80 L440.50,620.00 L443.80,627.00 L447.00,629.50 L450.00,631.00 L455.00,632.50 L460.00,633.50 L472.70,635.00 L480.00,635.80" fill="none" stroke="#939393" stroke-width="1.0" stroke-linejoin="round" stroke-dasharray="1.2,0.6"/>
<path d="M426.00,635.80 L427.70,635.00 L429.00,631.00 L430.50,622.00 L432.30,608.50 L433.50,600.00 L434.60,594.60 L435.80,585.00 L436.90,578.50 L438.50,572.00 L439.70,569.50 L441.00,574.00 L442.70,583.00 L444.50,590.00 L446.20,597.00 L447.30,601.00 L448.50,602.70 L450.20,605.00 L451.90,609.60 L453.50,615.00 L455.40,621.20 L457.00,621.50 L458.00,624.00 L459.50,623.00 L461.20,627.00 L462.30,626.00 L463.50,629.50 L465.80,631.50 L468.00,630.50 L470.00,632.50 L473.00,632.00 L477.30,633.90 L481.00,633.20 L486.00,634.50 L490.00,634.00 L495.80,635.00 L498.00,635.80" fill="none" stroke="#000" stroke-width="1.35" stroke-linejoin="round" />
<text x="447.84" y="662.80" font-size="11.5" textLength="45.67" lengthAdjust="spacingAndGlyphs" >FL5/FL4</text>
</svg>
</body></html>
